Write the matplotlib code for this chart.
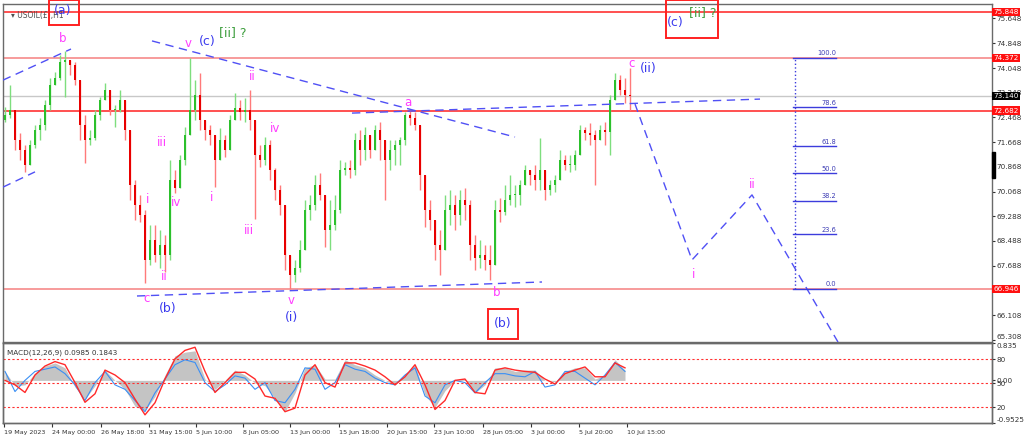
import matplotlib
matplotlib.use("Agg")
import matplotlib.pyplot as plt
import matplotlib.transforms as mtransforms
from matplotlib.patches import Rectangle
import numpy as np

# ---- USOIL H1 candles, one candle per ~5 px of the screenshot
HIGHS = [72.80, 73.50, 72.70, 71.96, 71.57, 71.74, 72.22, 72.44, 73.02, 73.73,
         73.92, 74.47, 74.60, 74.31, 74.24, 73.50, 72.54, 72.06, 72.70, 73.12,
         73.57, 73.34, 72.86, 73.34, 73.02, 72.06, 70.45, 69.97, 69.48, 69.00,
         69.00, 68.84, 68.68, 71.09, 70.77, 71.25, 72.15, 74.37, 73.66, 73.89,
         72.22, 72.22, 71.90, 72.12, 71.90, 72.54, 73.25, 73.02, 73.09, 73.34,
         72.38, 71.57, 71.83, 71.74, 70.84, 70.29, 69.00, 68.04, 67.88, 68.52,
         69.81, 69.97, 70.61, 70.67, 69.97, 69.81, 69.97, 71.09, 71.03, 71.09,
         71.96, 72.06, 72.15, 71.90, 72.22, 72.31, 71.74, 71.74, 71.74, 71.83,
         72.64, 72.70, 72.64, 72.22, 70.61, 69.81, 69.00, 68.84, 69.97, 70.13,
         69.97, 70.13, 70.19, 69.81, 68.68, 68.52, 68.36, 68.36, 69.81, 69.87,
         70.29, 70.61, 70.29, 70.45, 70.93, 70.77, 70.93, 71.80, 70.61, 70.45,
         70.61, 71.41, 71.25, 71.25, 71.41, 72.22, 72.15, 72.28, 72.06, 72.22,
         72.31, 73.18, 73.89, 73.82, 73.73, 74.05]
LOWS = [72.31, 72.44, 71.41, 71.09, 70.71, 71.09, 71.48, 71.74, 72.06, 72.70,
        73.50, 73.66, 73.12, 73.82, 73.50, 71.74, 71.00, 71.57, 71.74, 72.38,
        73.02, 72.54, 72.15, 72.64, 71.74, 69.81, 69.16, 69.10, 67.14, 67.72,
        67.81, 67.62, 67.49, 67.88, 70.03, 70.29, 70.93, 72.22, 72.38, 72.06,
        71.74, 71.57, 70.22, 71.41, 71.19, 71.41, 72.38, 72.38, 72.31, 72.06,
        69.20, 70.87, 70.93, 70.45, 69.81, 69.32, 67.56, 66.95, 67.17, 67.49,
        68.52, 69.16, 69.48, 69.81, 68.30, 68.20, 68.84, 69.39, 70.61, 70.51,
        70.61, 70.93, 71.09, 71.16, 71.41, 71.09, 69.81, 70.77, 70.93, 70.93,
        71.57, 72.22, 72.06, 70.13, 68.94, 68.84, 67.88, 67.39, 68.20, 69.00,
        68.84, 69.00, 69.16, 67.88, 67.56, 67.62, 67.56, 67.23, 67.72, 69.10,
        69.32, 69.65, 69.58, 69.65, 70.29, 70.29, 70.13, 70.13, 69.81, 69.97,
        70.06, 70.45, 70.77, 70.71, 70.77, 71.25, 71.74, 71.57, 70.29, 71.74,
        71.57, 71.25, 73.02, 73.18, 72.93, 72.70]
CLOSES = [72.54, 72.70, 71.74, 71.41, 70.93, 71.57, 72.06, 72.22, 72.86, 73.50,
          73.73, 74.24, 74.31, 74.15, 73.66, 72.22, 71.74, 71.80, 72.54, 73.02,
          73.34, 72.70, 72.70, 73.02, 72.06, 70.29, 69.65, 69.32, 67.88, 68.52,
          68.04, 68.36, 68.04, 70.45, 70.19, 71.09, 71.90, 72.70, 73.18, 72.38,
          72.06, 71.90, 71.09, 71.74, 71.41, 72.38, 72.76, 72.64, 72.70, 72.38,
          71.25, 71.09, 71.57, 70.77, 70.13, 69.65, 68.04, 67.39, 67.62, 68.20,
          69.48, 69.65, 70.29, 69.97, 68.84, 69.00, 69.48, 70.77, 70.84, 70.77,
          71.74, 71.41, 71.90, 71.41, 72.06, 71.74, 71.09, 71.41, 71.57, 71.74,
          72.54, 72.44, 72.22, 70.61, 69.48, 69.16, 68.36, 68.20, 69.48, 69.65,
          69.32, 69.81, 69.65, 68.36, 67.94, 68.04, 67.88, 67.72, 69.48, 69.42,
          69.81, 69.97, 69.97, 70.29, 70.77, 70.61, 70.45, 70.77, 70.13, 70.29,
          70.45, 71.09, 70.93, 70.93, 71.25, 72.06, 71.96, 71.90, 71.74, 72.06,
          71.99, 73.02, 73.66, 73.34, 73.18, 73.14]
FIRST_OPEN = 72.38

LEVELS = [75.848, 74.372, 72.682, 66.946]
LAST_PRICE = 73.140
PRICE_TICKS = [75.648, 74.848, 74.048, 73.248, 72.468, 71.668, 70.868,
               70.068, 69.288, 68.488, 67.688, 66.108, 65.308]

DATE_POS = [-0.2, 9.4, 19.2, 28.8, 38.2, 47.6, 57.0, 66.8, 76.4, 85.8,
            95.6, 105.2, 114.8, 124.4]
DATE_LABELS = ["19 May 2023", "24 May 00:00", "26 May 18:00", "31 May 15:00",
               "5 Jun 10:00", "8 Jun 05:00", "13 Jun 00:00", "15 Jun 18:00",
               "20 Jun 15:00", "23 Jun 10:00", "28 Jun 05:00", "3 Jul 00:00",
               "5 Jul 20:00", "10 Jul 15:00"]

# MACD panel, sampled every 2 candles
MACD_HIST = [0.20, -0.12, -0.10, 0.16, 0.32, 0.39, 0.28, -0.15, -0.42, -0.12,
             0.23, 0.00, -0.20, -0.58, -0.67, -0.36, 0.12, 0.55, 0.63, 0.66,
             0.03, -0.20, 0.00, 0.23, 0.12, -0.06, -0.12, -0.40, -0.70, -0.28,
             0.28, 0.35, 0.03, 0.03, 0.46, 0.35, 0.28, 0.12, 0.00, -0.10,
             0.12, 0.35, -0.33, -0.60, -0.23, 0.00, 0.03, -0.28, -0.10, 0.28,
             0.28, 0.20, 0.23, 0.23, 0.00, -0.03, 0.20, 0.28, 0.28, 0.03,
             0.12, 0.46, 0.23]
MACD_SIGNAL = [0.00, -0.10, -0.27, 0.12, 0.32, 0.42, 0.35, -0.05, -0.49, -0.30,
               0.23, 0.12, -0.05, -0.42, -0.77, -0.50, 0.03, 0.48, 0.67, 0.74,
               0.20, -0.27, -0.05, 0.18, 0.18, 0.03, -0.35, -0.40, -0.70, -0.62,
               0.12, 0.35, -0.05, -0.15, 0.39, 0.39, 0.32, 0.23, 0.08, -0.10,
               0.08, 0.35, -0.10, -0.65, -0.45, 0.00, 0.03, -0.27, -0.30, 0.23,
               0.28, 0.23, 0.20, 0.18, 0.03, -0.08, 0.15, 0.23, 0.30, 0.08,
               0.08, 0.39, 0.28]
MACD_BLUE = [0.20, -0.25, 0.00, 0.20, 0.25, 0.30, 0.15, -0.10, -0.45, -0.05,
             0.20, -0.10, -0.20, -0.45, -0.70, -0.28, 0.03, 0.35, 0.46, 0.40,
             -0.05, -0.25, -0.10, 0.10, 0.05, -0.20, -0.05, -0.45, -0.50, -0.20,
             0.28, 0.25, -0.20, -0.05, 0.35, 0.25, 0.20, 0.05, -0.05, -0.10,
             0.12, 0.28, -0.35, -0.50, -0.10, 0.00, -0.05, -0.28, -0.05, 0.15,
             0.15, 0.10, 0.08, 0.20, -0.15, -0.10, 0.20, 0.20, 0.05, -0.10,
             0.12, 0.40, 0.20]
MACD_STEP = 2
MACD_LIMS = (-0.9525, 0.835)
OSC_LEVELS = [80, 50, 20]

FIB_LEVELS = [0.0, 23.6, 38.2, 50.0, 61.8, 78.6, 100.0]
FIB_LOW, FIB_HIGH = 66.946, 74.372
FIB_X = (157.6, 166.2)

PROJ_X = [126.0, 137.4, 149.4, 166.6]
PROJ_Y = [72.89, 67.88, 69.97, 65.24]

TRENDLINES = [((-0.4, 73.66), (13.2, 74.66)),
              ((-0.4, 70.22), (6.0, 70.71)),
              ((29.4, 74.92), (102.0, 71.83)),
              ((69.4, 72.60), (151.0, 73.05)),
              ((26.4, 66.72), (107.4, 67.17))]

MAGENTA = "#ff3cff"
BLUE = "#3a3aee"
GREEN = "#3e9e3e"
RED = "#ff2020"

WAVE_LABELS = [
    ("b", 11.6, 75.01, MAGENTA), ("v", 36.6, 74.85, MAGENTA),
    ("(c)", 40.4, 74.89, BLUE), ("[ii] ?", 45.6, 75.18, GREEN),
    ("ii", 49.4, 73.79, MAGENTA), ("iv", 54.0, 72.12, MAGENTA),
    ("iii", 31.4, 71.67, MAGENTA), ("i", 28.6, 69.81, MAGENTA),
    ("iv", 34.2, 69.74, MAGENTA), ("ii", 31.8, 67.36, MAGENTA),
    ("c", 28.4, 66.65, MAGENTA), ("(b)", 32.6, 66.33, BLUE),
    ("i", 41.4, 69.90, MAGENTA), ("iii", 48.8, 68.84, MAGENTA),
    ("v", 57.2, 66.56, MAGENTA), ("(i)", 57.4, 66.04, BLUE),
    ("a", 80.6, 72.93, MAGENTA), ("b", 98.4, 66.82, MAGENTA),
    ("c", 125.4, 74.21, MAGENTA), ("(ii)", 128.6, 74.02, BLUE),
    ("i", 137.8, 67.40, MAGENTA), ("ii", 149.4, 70.29, MAGENTA),
    ("(a)", 11.6, 75.91, BLUE), ("(b)", 99.6, 65.82, BLUE),
    ("(c)", 134.0, 75.50, BLUE), ("[ii] ?", 139.6, 75.82, GREEN),
]
BOXES = [((8.8, 75.43), (14.8, 76.24)),
         ((96.6, 65.34), (102.6, 66.30)),
         ((132.2, 75.01), (142.6, 76.24))]

W, H = 1024, 441
fig = plt.figure(figsize=(W / 100, H / 100), dpi=100, facecolor="white")
ax = fig.add_axes([3 / W, 99.5 / H, 989 / W, 338 / H])
axm = fig.add_axes([3 / W, 18 / H, 989 / W, 80 / H], sharex=ax)

# candles
n = len(CLOSES)
xs = np.arange(n)
opens = np.array([FIRST_OPEN] + CLOSES[:-1])
closes = np.array(CLOSES)
up = closes >= opens
his = np.maximum(np.array(HIGHS), np.maximum(opens, closes))
los = np.minimum(np.array(LOWS), np.minimum(opens, closes))
wick_cols = np.where(up, "#7ede7e", "#ff7a7a")
body_cols = np.where(up, "#2cc02c", "#e80000")
ax.vlines(xs, los, his, colors=wick_cols, lw=1.0, zorder=3)
ax.bar(xs, np.maximum(np.abs(closes - opens), 0.03), bottom=np.minimum(opens, closes),
       width=0.45, color=body_cols, zorder=4)

# horizontal levels
for lv in LEVELS:
    c = RED if lv in (75.848, 72.682) else "#f58080"
    ax.axhline(lv, color=c, lw=1.1, zorder=2)
ax.axhline(LAST_PRICE, color="#c8c8c8", lw=1.0, zorder=1)

# trendlines and projection
dash = (0, (6, 4))
for (x0, y0), (x1, y1) in TRENDLINES:
    ax.plot([x0, x1], [y0, y1], color="#5050f5", lw=1.0, ls=dash, zorder=5)
ax.plot(PROJ_X, PROJ_Y, color="#5050f5", lw=1.0, ls=dash, zorder=5)

# fibonacci retracement
fib_prices = [FIB_LOW + f / 100 * (FIB_HIGH - FIB_LOW) for f in FIB_LEVELS]
ax.plot([FIB_X[0] + 0.4] * 2, [FIB_LOW, FIB_HIGH], color="#3c3cdc", lw=1.0, ls=":", zorder=5)
for f, p in zip(FIB_LEVELS, fib_prices):
    ax.plot(FIB_X, [p, p], color="#3c3cdc", lw=1.0, zorder=5)
    ax.text(FIB_X[1], p + 0.05, f"{f:.1f}", ha="right", va="bottom",
            fontsize=4.8, color="#3c3cb4", zorder=6)

# wave labels
for txt, x, y, col in WAVE_LABELS:
    size = 9 if col != MAGENTA else 8.5
    ax.text(x, y, txt, color=col, fontsize=size, ha="center", va="center", zorder=7)
for (x0, y0), (x1, y1) in BOXES:
    ax.add_patch(Rectangle((x0, y0), x1 - x0, y1 - y0, fill=False, ec=RED,
                           lw=1.4, clip_on=False, zorder=8))

ax.text(1.2, 75.74, "\u25be USOIL(\u00a3),H1", fontsize=5.5, color="#505050",
        ha="left", va="center", zorder=6)

ax.set_xlim(-0.4, 197.4)
ax.set_ylim(65.257, 76.123)
ax.yaxis.tick_right()
ax.set_yticks(PRICE_TICKS)
ax.set_yticklabels([f"{t:.3f}" for t in PRICE_TICKS])
ax.tick_params(axis="y", labelsize=5.2, length=2, pad=1.5, colors="#333333")
ax.tick_params(axis="x", bottom=False, labelbottom=False)
ax.get_yticklabels()[-1].set_va("bottom")

trans = mtransforms.blended_transform_factory(ax.transAxes, ax.transData)
for lv in LEVELS:
    ax.text(1.0015, lv, f"{lv:.3f}", transform=trans, ha="left", va="center",
            fontsize=5.2, color="white", clip_on=False, zorder=10,
            bbox=dict(boxstyle="square,pad=0.15", fc="#ff1010", ec="none"))
ax.text(1.0015, LAST_PRICE, f"{LAST_PRICE:.3f}", transform=trans, ha="left",
        va="center", fontsize=5.2, color="white", clip_on=False, zorder=10,
        bbox=dict(boxstyle="square,pad=0.15", fc="black", ec="none"))
fig.add_artist(Rectangle((992 / W, (441 - 178) / H), 2.5 / W, 26 / H,
                         transform=fig.transFigure, color="black"))

# MACD panel
mx = np.arange(len(MACD_HIST)) * MACD_STEP
axm.fill_between(mx, 0, MACD_HIST, color="#c4c4c4", lw=0, zorder=2)
axm.plot(mx, MACD_BLUE, color="#3a8ff5", lw=0.8, zorder=3)
axm.plot(mx, MACD_SIGNAL, color="#ff2a2a", lw=1.0, zorder=4)
axm.set_ylim(*MACD_LIMS)
axm.set_xticks(DATE_POS)
axm.set_xticklabels(DATE_LABELS, ha="left")
axm.tick_params(axis="x", labelsize=4.6, length=3, pad=2, colors="#333333")
axm.text(0.004, 0.88, "MACD(12,26,9) 0.0985 0.1843", transform=axm.transAxes,
         fontsize=5.2, color="#333333", ha="left", va="center")

axs = axm.twinx()
axs.set_ylim(0, 100)
for lv in OSC_LEVELS:
    axs.axhline(lv, color="#ff3030", lw=0.8, ls=(0, (2, 2)))
axs.set_yticks(OSC_LEVELS)
axs.set_yticklabels([str(v) for v in OSC_LEVELS])
axs.tick_params(axis="y", labelsize=5.2, length=2, pad=1.5, colors="#333333")

# twinx moves the MACD scale to the left; put it back on the right
axm.yaxis.tick_right()
axm.set_yticks([0.835, 0.0, -0.9525])
axm.set_yticklabels(["0.835", "0.00", "-0.9525"])
axm.tick_params(axis="y", labelsize=5.2, length=2, pad=1.5, colors="#333333")
mlabels = axm.get_yticklabels()
mlabels[0].set_va("top")
mlabels[-1].set_va("bottom")

for a in (ax, axm, axs):
    for s in a.spines.values():
        s.set_color("#6a6a6a")
        s.set_linewidth(1.0)

fig.savefig("out.png", dpi=100, facecolor="white")
